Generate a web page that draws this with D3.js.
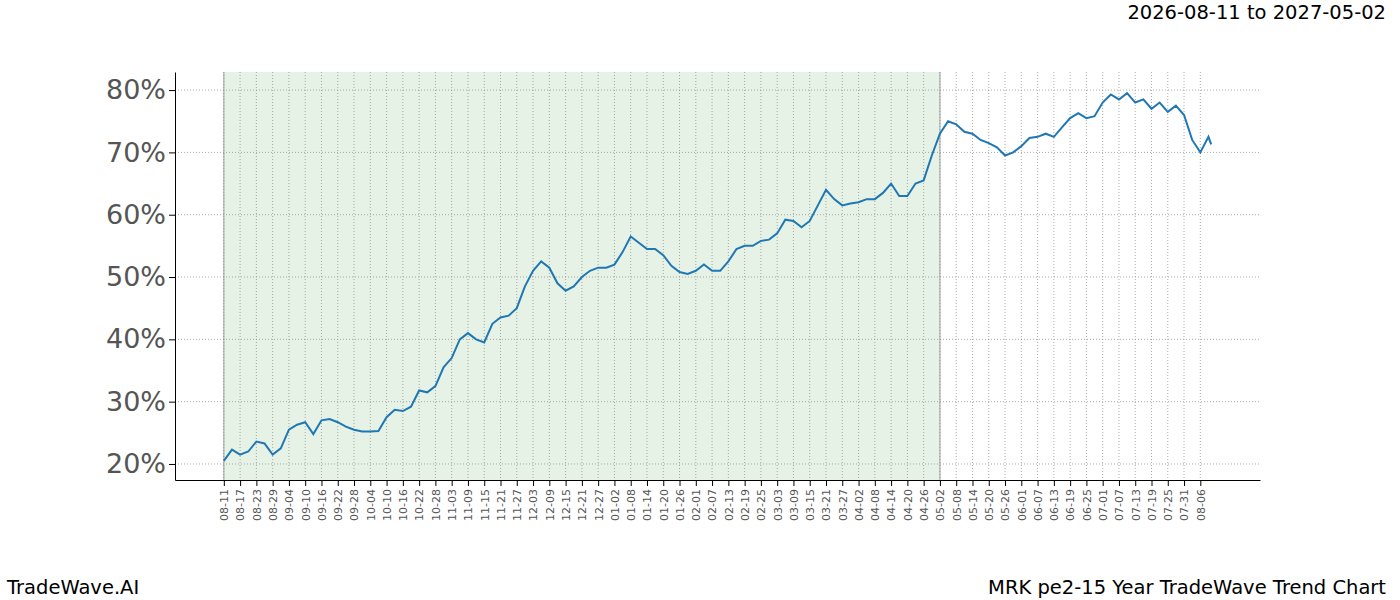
<!DOCTYPE html>
<html><head><meta charset="utf-8">
<script src="https://cdn.jsdelivr.net/npm/d3@7"></script>
<style>body{margin:0;background:#fff;font-family:"DejaVu Sans",sans-serif;}</style>
</head><body><svg id="c" width="1400" height="600"></svg>
<script>
const startDate = "2026-08-11";
const stepDays = 3;
const values = [20.5,22.3,21.5,22.0,23.6,23.3,21.5,22.5,25.5,26.3,26.7,24.8,27.0,27.2,26.7,26.0,25.5,25.2,25.2,25.3,
27.5,28.7,28.5,29.2,31.8,31.5,32.5,35.5,37.0,40.0,41.0,40.0,39.5,42.5,43.5,43.8,45.0,48.5,51.0,52.5,
51.5,49.0,47.8,48.5,50.0,51.0,51.5,51.5,52.0,54.0,56.5,55.5,54.5,54.5,53.5,51.8,50.8,50.5,51.0,52.0,
51.0,51.0,52.5,54.5,55.0,55.0,55.8,56.0,57.0,59.2,59.0,58.0,59.0,61.5,64.0,62.5,61.5,61.8,62.0,62.5,
62.5,63.5,65.0,63.0,63.0,65.0,65.5,69.5,73.0,75.0,74.5,73.3,73.0,72.0,71.5,70.8,69.5,70.0,71.0,72.3,
72.5,73.0,72.5,74.0,75.5,76.3,75.5,75.8,78.0,79.3,78.5,79.5,78.0,78.5,77.0,78.0,76.5,77.5,76.0,72.0,70.0,72.5];
const lastValue = 71.3;
const shadeStart = "2026-08-11", shadeEnd = "2027-05-02";
const yTicks = [20,30,40,50,60,70,80];
const title = "2026-08-11 to 2027-05-02";
const footLeft = "TradeWave.AI", footRight = "MRK pe2-15 Year TradeWave Trend Chart";

const parse = d3.utcParse("%Y-%m-%d");
const t0 = parse(startDate);
const data = values.map((v,i)=>({d:d3.utcDay.offset(t0,i*stepDays),v}));
data.push({d:d3.utcDay.offset(t0,364),v:lastValue});

const svg = d3.select("#c");
const L=175,R=1260,T=72,B=480;
const x = d3.scaleUtc().domain([d3.utcDay.offset(t0,-18), d3.utcDay.offset(t0,382)]).range([L,R]);
const y = d3.scaleLinear().domain([17.43,82.9]).range([B,T]);

svg.append("rect").attr("x",x(parse(shadeStart))).attr("y",T).attr("width",x(parse(shadeEnd))-x(parse(shadeStart))).attr("height",B-T).attr("fill","#e6f2e6");
[shadeStart,shadeEnd].forEach(s=>svg.append("line").attr("x1",x(parse(s))).attr("x2",x(parse(s))).attr("y1",T).attr("y2",B).attr("stroke","#bbb").attr("stroke-width",1.5));

const xt = d3.range(0,361,6).map(k=>d3.utcDay.offset(t0,k));
const g = svg.append("g");
xt.forEach(d=>g.append("line").attr("x1",x(d)).attr("x2",x(d)).attr("y1",T).attr("y2",B).attr("stroke","#888").attr("stroke-width",0.7).attr("stroke-dasharray","1,2"));
yTicks.forEach(v=>g.append("line").attr("x1",L).attr("x2",R).attr("y1",y(v)).attr("y2",y(v)).attr("stroke","#888").attr("stroke-width",0.7).attr("stroke-dasharray","1,2"));

svg.append("path").datum(data).attr("fill","none").attr("stroke","#1f77b4").attr("stroke-width",2)
  .attr("d",d3.line().x(d=>x(d.d)).y(d=>y(d.v)));

const xa = svg.append("g").attr("transform",`translate(0,${B})`).call(d3.axisBottom(x).tickValues(xt).tickFormat(d3.utcFormat("%m-%d")).tickSizeOuter(0));
xa.select(".domain").attr("stroke","#000");
xa.selectAll("text").attr("font-family","DejaVu Sans").attr("font-size",11).attr("fill","#555")
  .attr("transform","rotate(-90)").attr("text-anchor","end").attr("dx",0).attr("dy","0.35em").attr("x",-9).attr("y",0);
const ya = svg.append("g").attr("transform",`translate(${L},0)`).call(d3.axisLeft(y).tickValues(yTicks).tickFormat(d=>d+"%").tickSizeOuter(0));
ya.selectAll("text").attr("font-family","DejaVu Sans").attr("font-size",27).attr("fill","#555").attr("x",-9);
ya.select(".domain").attr("stroke","#000");

svg.append("text").attr("x",1386).attr("y",19).attr("text-anchor","end").attr("font-size",19.5).text(title);
svg.append("text").attr("x",7).attr("y",594).attr("font-size",19.5).text(footLeft);
svg.append("text").attr("x",1386).attr("y",594).attr("text-anchor","end").attr("font-size",19.5).text(footRight);
</script></body></html>
